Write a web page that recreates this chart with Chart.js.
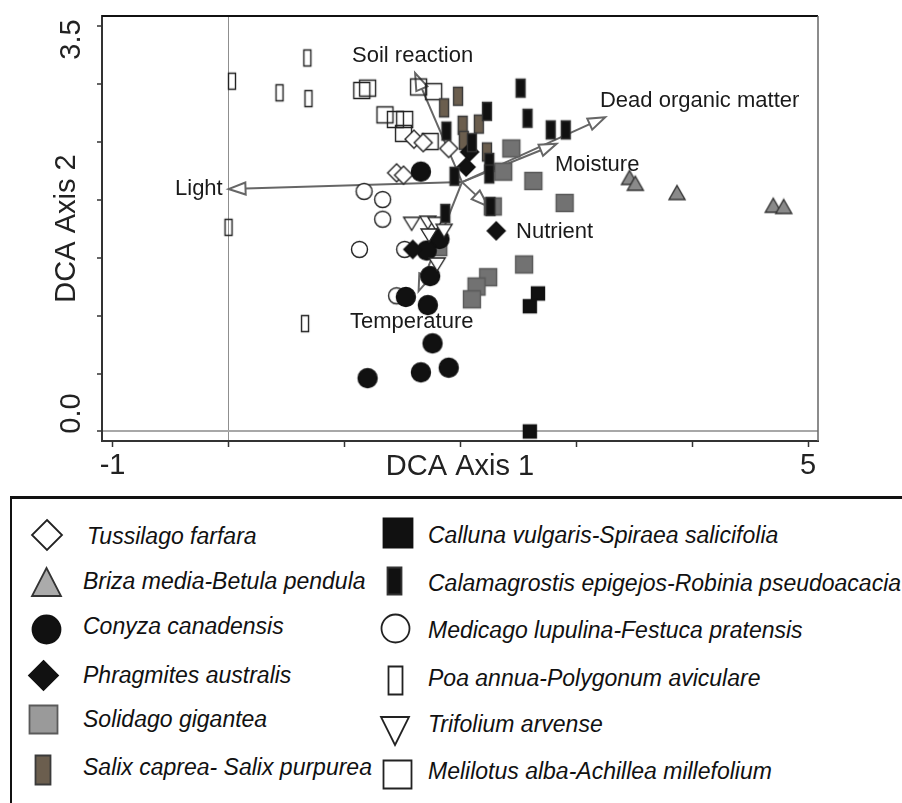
<!DOCTYPE html>
<html><head><meta charset="utf-8">
<script src="https://cdn.jsdelivr.net/npm/chart.js@4.4.1/dist/chart.umd.min.js"></script>
<style>
html,body{margin:0;padding:0;background:#fff;}
#wrap{position:relative;width:902px;height:803px;overflow:hidden;font-family:"Liberation Sans",Arial,sans-serif;}
#c{position:absolute;left:0;top:0;}
#legendBox{position:absolute;left:10px;top:496px;width:900px;height:320px;border-top:3px solid #111;border-left:2px solid #111;}
.li{position:absolute;font-style:italic;font-size:23px;color:#111;white-space:nowrap;line-height:23px;}
.lm{position:absolute;}
</style></head><body>
<div id="wrap"><canvas id="c" width="902" height="490"></canvas><div id="legendBox"></div></div>
<script>
// ---------------- data ----------------
const xTicks = [-1, 0, 1, 2, 3, 4, 5];
const xTickLabels = ['-1', '', '', '', '', '', '5'];
const yTicks = [0, 0.5, 1, 1.5, 2, 2.5, 3, 3.5];
const yTickLabels = ['0.0', '', '', '', '', '', '', '3.5'];

const speciesNames = [
  'Tussilago farfara', 'Briza media-Betula pendula', 'Conyza canadensis',
  'Phragmites australis', 'Solidago gigantea', 'Salix caprea- Salix purpurea',
  'Calluna vulgaris-Spiraea salicifolia', 'Calamagrostis epigejos-Robinia pseudoacacia',
  'Medicago lupulina-Festuca pratensis', 'Poa annua-Polygonum aviculare',
  'Trifolium arvense', 'Melilotus alba-Achillea millefolium'
];

const tussilagoX = [1.60, 1.68, 1.90, 1.45, 1.51];
const tussilagoY = [2.52, 2.49, 2.44, 2.23, 2.21];
const brizaX = [3.46, 3.51, 3.87, 4.70, 4.79];
const brizaY = [2.19, 2.14, 2.06, 1.95, 1.94];
const conyzaX = [1.66, 1.82, 1.71, 1.74, 1.53, 1.72, 1.76, 1.66, 1.90, 1.20];
const conyzaY = [2.24, 1.66, 1.56, 1.34, 1.16, 1.09, 0.76, 0.51, 0.55, 0.46];
const phragmitesX = [2.08, 2.05, 2.31, 1.59];
const phragmitesY = [2.41, 2.28, 1.73, 1.57];
const solidagoX = [2.44, 2.37, 2.63, 2.90, 2.28, 1.81, 2.55, 2.24, 2.14, 2.10];
const solidagoY = [2.44, 2.24, 2.16, 1.97, 1.94, 1.59, 1.44, 1.33, 1.25, 1.14];
const salixX = [1.98, 1.86, 2.02, 2.03, 2.16, 2.23];
const salixY = [2.89, 2.79, 2.64, 2.51, 2.65, 2.41];
const callunaX = [2.67, 2.60, 2.60];
const callunaY = [1.19, 1.08, 0.00];
const calamagrostisX = [2.52, 2.23, 2.58, 2.78, 2.91, 1.88, 2.10, 2.25, 2.25, 1.95, 2.26, 1.87];
const calamagrostisY = [2.96, 2.76, 2.70, 2.60, 2.60, 2.59, 2.49, 2.32, 2.22, 2.20, 1.94, 1.88];
const medicagoX = [1.17, 1.33, 1.33, 1.13, 1.52, 1.45];
const medicagoY = [2.07, 2.00, 1.83, 1.57, 1.57, 1.17];
const poaX = [0.68, 0.03, 0.44, 0.69, 0.00, 0.66];
const poaY = [3.22, 3.02, 2.92, 2.87, 1.76, 0.93];
const trifoliumX = [1.58, 1.72, 1.79, 1.73, 1.86, 1.80];
const trifoliumY = [1.79, 1.80, 1.79, 1.69, 1.73, 1.44];
const melilotusX = [1.15, 1.20, 1.64, 1.77, 1.35, 1.44, 1.52, 1.51, 1.74];
const melilotusY = [2.94, 2.96, 2.97, 2.93, 2.73, 2.69, 2.69, 2.57, 2.50];

const vectorNames = ['Light', 'Soil reaction', 'Dead organic matter', 'Moisture', 'Nutrient', 'Temperature'];
const vectorOriginX = 2.015;
const vectorOriginY = 2.15;
const vectorTipX = [0.00, 1.61, 3.25, 2.83, 2.24, 1.64];
const vectorTipY = [2.09, 3.09, 2.71, 2.48, 1.94, 1.21];

// ---------------- layout / style ----------------
const vectorLabelAnchor = [
  {x: -0.05, y: 2.09, align: 'right'},
  {x: 1.066, y: 3.237, align: 'left'},
  {x: 3.205, y: 2.849, align: 'left'},
  {x: 2.817, y: 2.297, align: 'left'},
  {x: 2.481, y: 1.72, align: 'left'},
  {x: 1.048, y: 0.944, align: 'left'}
];

const seriesData = [
  [tussilagoX, tussilagoY], [brizaX, brizaY], [conyzaX, conyzaY], [phragmitesX, phragmitesY],
  [solidagoX, solidagoY], [salixX, salixY], [callunaX, callunaY], [calamagrostisX, calamagrostisY],
  [medicagoX, medicagoY], [poaX, poaY], [trifoliumX, trifoliumY], [melilotusX, melilotusY]
];

// marker styles: plot size (w,h), legend size (lw,lh), legend centre (cx,cy), text pos (tx,ty)
const markerStyles = [
  {shape:'diamond', fill:'#fff', stroke:'#222', w:18, h:18, lw:30, lh:30, lfill:'#fff', order:8, cx:46.5, cy:535, tx:87, ty:536},
  {shape:'triUp', fill:'#8a8a8a', stroke:'#333', w:16, h:14, lw:29, lh:28, lfill:'#ababab', order:9, cx:46.5, cy:582, tx:83, ty:581},
  {shape:'circle', fill:'#111', stroke:'#111', w:20, h:20, lw:29, lh:29, lfill:'#111', order:7, cx:46.5, cy:629, tx:83, ty:626},
  {shape:'diamond', fill:'#111', stroke:'#111', w:18, h:18, lw:29, lh:29, lfill:'#111', order:5, cx:43, cy:675, tx:83, ty:675},
  {shape:'rect', fill:'#727272', stroke:'#5a5a5a', w:18, h:18, lw:29, lh:29, lfill:'#9a9a9a', order:9, cx:43, cy:719, tx:83, ty:719},
  {shape:'rect', fill:'#6b5e4e', stroke:'#3a3a3a', w:10, h:19, lw:16, lh:30, lfill:'#6b5e4e', order:5, cx:43, cy:770, tx:83, ty:767},
  {shape:'rect', fill:'#111', stroke:'#111', w:14, h:14, lw:30, lh:30, lfill:'#111', order:5, cx:398, cy:533, tx:428, ty:535.5},
  {shape:'rect', fill:'#111', stroke:'#333', w:10, h:19, lw:15, lh:28, lfill:'#111', order:4, cx:394.5, cy:581, tx:428, ty:583.5},
  {shape:'circle', fill:'#fff', stroke:'#222', w:17, h:17, lw:29, lh:29, lfill:'#fff', order:10, cx:395, cy:628.5, tx:428, ty:630},
  {shape:'rect', fill:null, stroke:'#222', w:8, h:17, lw:15, lh:29, lfill:'#fff', order:10, cx:395.5, cy:680, tx:428, ty:678},
  {shape:'triDown', fill:'#fff', stroke:'#222', w:16, h:13, lw:28, lh:28, lfill:'#fff', order:6, cx:395, cy:731, tx:428, ty:724.5},
  {shape:'rect', fill:null, stroke:'#222', w:17, h:17, lw:29, lh:29, lfill:'#fff', order:10, cx:397.5, cy:774, tx:428, ty:771.5}
];

function makeMarker(m, big) {
  const w = big ? m.lw : m.w, h = big ? m.lh : m.h;
  const fill = big ? m.lfill : m.fill;
  const pad = 2;
  const c = document.createElement('canvas');
  c.width = Math.ceil(w + 2 * pad); c.height = Math.ceil(h + 2 * pad);
  const g = c.getContext('2d');
  const cx = c.width / 2, cy = c.height / 2;
  g.beginPath();
  if (m.shape === 'circle') g.arc(cx, cy, w / 2 - 0.5, 0, Math.PI * 2);
  else if (m.shape === 'rect') g.rect(cx - w / 2 + 0.5, cy - h / 2 + 0.5, w - 1, h - 1);
  else if (m.shape === 'diamond') { g.moveTo(cx, cy - h / 2); g.lineTo(cx + w / 2, cy); g.lineTo(cx, cy + h / 2); g.lineTo(cx - w / 2, cy); g.closePath(); }
  else if (m.shape === 'triUp') { g.moveTo(cx, cy - h / 2); g.lineTo(cx + w / 2, cy + h / 2); g.lineTo(cx - w / 2, cy + h / 2); g.closePath(); }
  else if (m.shape === 'triDown') { g.moveTo(cx, cy + h / 2); g.lineTo(cx + w / 2, cy - h / 2); g.lineTo(cx - w / 2, cy - h / 2); g.closePath(); }
  if (fill) { g.fillStyle = fill; g.fill(); }
  g.lineWidth = big ? 1.8 : 1.4; g.strokeStyle = m.stroke; g.lineJoin = 'miter'; g.stroke();
  return c;
}

const datasets = speciesNames.map((name, i) => ({
  label: name,
  data: seriesData[i][0].map((xv, j) => ({x: xv, y: seriesData[i][1][j]})),
  pointStyle: makeMarker(markerStyles[i], false),
  pointRadius: 8,
  order: markerStyles[i].order,
  showLine: false
}));

const FONT = '"Liberation Sans", Arial, sans-serif';

const extraPlugin = {
  id: 'extra',
  beforeDatasetsDraw(chart) {
    const {ctx, scales: {x, y}, chartArea: a} = chart;
    ctx.save();
    // frame top / right
    ctx.strokeStyle = '#111'; ctx.lineWidth = 2;
    ctx.beginPath(); ctx.moveTo(a.left, a.top); ctx.lineTo(a.right, a.top); ctx.stroke();
    ctx.strokeStyle = '#666'; ctx.lineWidth = 1.5;
    ctx.beginPath(); ctx.moveTo(a.right, a.top); ctx.lineTo(a.right, a.bottom); ctx.stroke();
    // vectors
    const ox = x.getPixelForValue(vectorOriginX), oy = y.getPixelForValue(vectorOriginY);
    ctx.strokeStyle = '#666'; ctx.lineWidth = 2;
    vectorNames.forEach((n, i) => {
      const tx = x.getPixelForValue(vectorTipX[i]), ty = y.getPixelForValue(vectorTipY[i]);
      const ang = Math.atan2(ty - oy, tx - ox);
      const L = 17, H = 6;
      const bx = tx - L * Math.cos(ang), by = ty - L * Math.sin(ang);
      ctx.beginPath(); ctx.moveTo(ox, oy); ctx.lineTo(bx, by); ctx.stroke();
      ctx.beginPath(); ctx.moveTo(tx, ty);
      ctx.lineTo(bx + H * Math.sin(ang), by - H * Math.cos(ang));
      ctx.lineTo(bx - H * Math.sin(ang), by + H * Math.cos(ang));
      ctx.closePath(); ctx.fillStyle = '#fff'; ctx.fill(); ctx.stroke();
    });
    ctx.restore();
  },
  afterDatasetsDraw(chart) {
    const {ctx, scales: {x, y}} = chart;
    ctx.save();
    ctx.font = '22px ' + FONT; ctx.fillStyle = '#1a1a1a'; ctx.textBaseline = 'middle';
    vectorNames.forEach((n, i) => {
      const p = vectorLabelAnchor[i];
      ctx.textAlign = p.align;
      ctx.fillText(n, x.getPixelForValue(p.x), y.getPixelForValue(p.y));
    });
    // y tick labels (rotated, nudged inside the axis range)
    ctx.font = '29px ' + FONT; ctx.fillStyle = '#222'; ctx.textAlign = 'center';
    yTicks.forEach((v, i) => {
      if (!yTickLabels[i]) return;
      const py = y.getPixelForValue(v) + (v === 0 ? -18 : 14);
      ctx.save(); ctx.translate(72, py); ctx.rotate(-Math.PI / 2); ctx.fillText(yTickLabels[i], 0, 0); ctx.restore();
    });
    ctx.restore();
  }
};

new Chart(document.getElementById('c'), {
  type: 'scatter',
  data: {datasets},
  options: {
    responsive: false, animation: false, devicePixelRatio: 1,
    layout: {padding: {top: 16, right: 84, left: 0, bottom: 0}},
    plugins: {legend: {display: false}, tooltip: {enabled: false}},
    events: [],
    scales: {
      x: {
        type: 'linear', min: -1.0915, max: 5.086,
        afterBuildTicks: s => { s.ticks = xTicks.map(v => ({value: v})); },
        afterFit: s => { s.height = 49; },
        ticks: {autoSkip: false, maxRotation: 0, padding: 2, color: '#222', font: {size: 29, family: FONT},
                callback: (v, i) => xTickLabels[i]},
        grid: {color: c => (c.tick && c.tick.value === 0) ? '#8f8f8f' : 'rgba(0,0,0,0)', lineWidth: 1,
               tickColor: '#333', tickWidth: 1.5, tickLength: 6},
        border: {color: '#333', width: 2},
        title: {display: true, text: 'DCA Axis 1', color: '#222', font: {size: 29, family: FONT}, padding: {top: 0, bottom: 6}}
      },
      y: {
        type: 'linear', min: -0.0819, max: 3.582,
        afterBuildTicks: s => { s.ticks = yTicks.map(v => ({value: v})); },
        afterFit: s => { s.width = 102; },
        ticks: {display: false},
        grid: {color: c => (c.tick && c.tick.value === 0) ? '#a8a8a8' : 'rgba(0,0,0,0)', lineWidth: 2,
               tickColor: '#333', tickWidth: 1.5, tickLength: 5},
        border: {color: '#333', width: 2},
        title: {display: true, text: 'DCA Axis 2', color: '#222', font: {size: 29, family: FONT}, padding: {top: 50, bottom: 0}}
      }
    }
  },
  plugins: [extraPlugin]
});

// ---------------- HTML legend ----------------
const wrap = document.getElementById('wrap');
speciesNames.forEach((name, i) => {
  const m = markerStyles[i];
  const mc = makeMarker(m, true);
  mc.className = 'lm';
  mc.style.left = (m.cx - mc.width / 2) + 'px';
  mc.style.top = (m.cy - mc.height / 2) + 'px';
  wrap.appendChild(mc);
  const t = document.createElement('div');
  t.className = 'li';
  t.textContent = name;
  t.style.left = m.tx + 'px';
  t.style.top = (m.ty - 11.2) + 'px';
  wrap.appendChild(t);
});
</script>
</body></html>
